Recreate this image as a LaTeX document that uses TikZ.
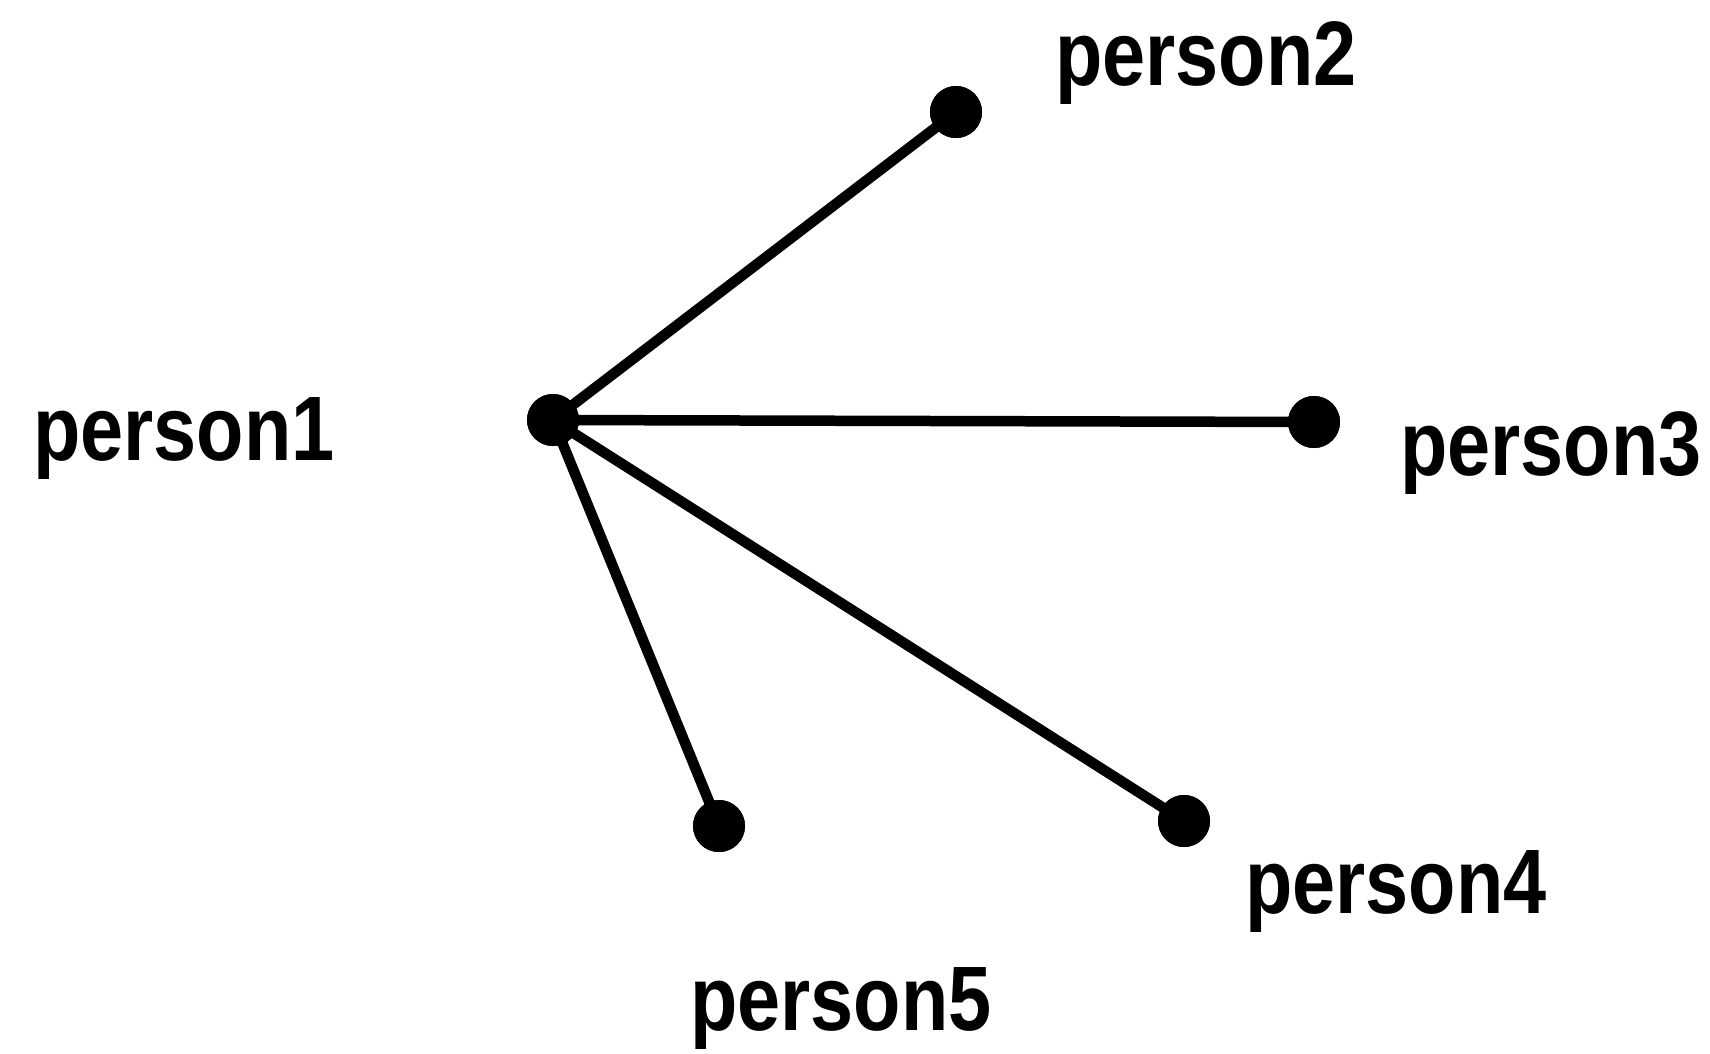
\documentclass[tikz,border=0pt]{standalone}
\usepackage{fontspec}
\setmainfont{Liberation Sans}
\begin{document}
\begin{tikzpicture}[x=1pt,y=-1pt,
  dot/.style={circle,fill=black,inner sep=0pt,minimum size=52pt},
  lbl/.style={anchor=base,inner sep=0pt,xscale=0.88,yscale=1.04,font=\fontsize{88}{92}\selectfont\bfseries},
  edge/.style={line width=10.5pt,black}]
\useasboundingbox[fill=white] (0,0) rectangle (1710,1053);
\node[dot] (p1) at (553,420) {};
\node[dot] (p2) at (956,112) {};
\node[dot] (p3) at (1314,422) {};
\node[dot] (p4) at (1184,821) {};
\node[dot] (p5) at (719,826) {};
\draw[edge] (p1.center) -- (p2.center);
\draw[edge] (p1.center) -- (p3.center);
\draw[edge] (p1.center) -- (p4.center);
\draw[edge] (p1.center) -- (p5.center);
\node[dot] at (p1) {};
\node[dot] at (p2) {};
\node[dot] at (p3) {};
\node[dot] at (p4) {};
\node[dot] at (p5) {};
\node[lbl] (l1) at (184,460) {person1};
\node[lbl] (l2) at (1206,85) {person2};
\node[lbl] (l3) at (1551,475) {person3};
\node[lbl] (l4) at (1396,913) {person4};
\node[lbl] (l5) at (841,1030) {person5};
\end{tikzpicture}
\end{document}
